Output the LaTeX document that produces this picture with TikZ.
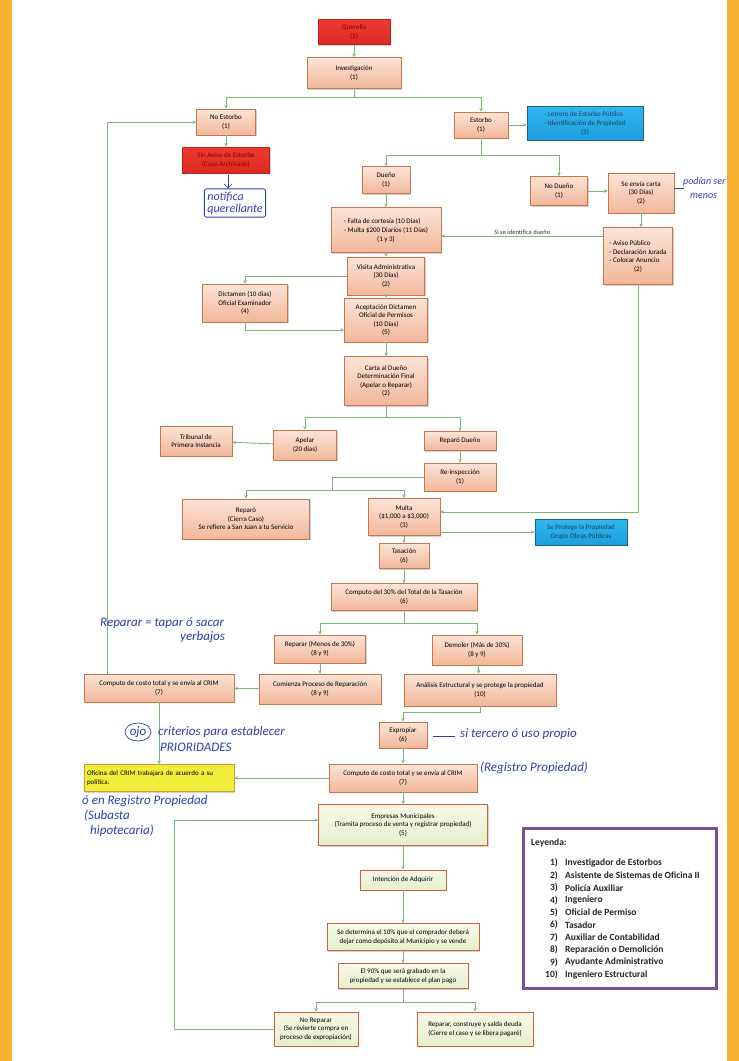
\documentclass[tikz,border=0pt]{standalone}
\usepackage{fontspec}
\setmainfont{Carlito}
\usetikzlibrary{arrows.meta,shadows,calc}
\definecolor{salT}{HTML}{FCE4D6}
\definecolor{salB}{HTML}{F2B79A}
\definecolor{salD}{HTML}{C8754E}
\definecolor{redT}{HTML}{EE3A30}
\definecolor{redB}{HTML}{DC2A22}
\definecolor{redD}{HTML}{B3241C}
\definecolor{bluT}{HTML}{33B5EE}
\definecolor{bluB}{HTML}{1C9FDC}
\definecolor{bluD}{HTML}{1F5F8C}
\definecolor{yelF}{HTML}{F2EC3A}
\definecolor{yelD}{HTML}{C89A32}
\definecolor{grnT}{HTML}{F6F9E8}
\definecolor{grnB}{HTML}{E6EFCC}
\definecolor{grnD}{HTML}{D0603A}
\definecolor{conn}{HTML}{7DB87A}
\definecolor{ink}{RGB}{45,65,170}
\definecolor{frame}{HTML}{F6B12E}
\definecolor{legD}{HTML}{7A4E9E}
\tikzset{
  nb/.style={draw=salD, line width=0.9pt, top color=salT, bottom color=salB,
    align=center, font=\fontsize{7}{8.5}\selectfont, inner sep=1pt,
    drop shadow={shadow xshift=1pt, shadow yshift=-1pt, opacity=0.35}},
  redb/.style={nb, top color=redT, bottom color=redB, draw=redD, text=red!50!black},
  blub/.style={nb, top color=bluT, bottom color=bluB, draw=bluD, text=bluD!70!black},
  yelb/.style={nb, top color=yelF, bottom color=yelF, draw=yelD},
  grnb/.style={nb, top color=grnT, bottom color=grnB, draw=grnD},
  line/.style={draw=conn, line width=0.9pt},
  arr/.style={line, -{Stealth[length=3.5pt,width=3.5pt]}},
  hw/.style={text=ink, font=\itshape\fontsize{13}{13}\selectfont, inner sep=0pt},
  hwl/.style={draw=ink, line width=0.7pt},
  leg/.style={font=\bfseries\fontsize{9.5}{11}\selectfont, inner sep=0pt, anchor=west, text=black!85}
}
\newcommand{\lst}[1]{\begin{tabular}{@{}l@{}}#1\end{tabular}}
\begin{document}
\begin{tikzpicture}[x=1pt,y=-1pt]
\useasboundingbox (0,0) rectangle (739,1061);
\fill[white] (0,0) rectangle (739,1061);

% ---------- nodes ----------
\node[redb, minimum width=72pt, minimum height=25pt] (q) at (354,32) {Querella\\(1)};
\node[nb, minimum width=94pt, minimum height=31pt] (inv) at (354,73) {Investigación\\(1)};
\node[nb, minimum width=59pt, minimum height=26pt] (noe) at (226,122) {No Estorbo\\(1)};
\node[nb, minimum width=54pt, minimum height=26pt] (est) at (481,125) {Estorbo\\(1)};
\node[blub, minimum width=116pt, minimum height=34pt] (blue1) at (585,123) {\lst{- Letrero de Estorbo Público\\- Identificación de Propiedad}\\(3)};
\node[redb, minimum width=87pt, minimum height=26pt] (red2) at (226,160) {Sin Aviso de Estorbo\\(Caso Archivado)};
\node[nb, minimum width=48pt, minimum height=27pt] (dueno) at (386,180) {Dueño\\(1)};
\node[nb, minimum width=57pt, minimum height=29pt] (nod) at (559,191) {No Dueño\\(1)};
\node[nb, minimum width=66pt, minimum height=40pt] (carta) at (641,193) {Se envía carta\\(30 Días)\\(2)};
\node[nb, minimum width=110pt, minimum height=45pt] (falta) at (386,230) {\lst{- Falta de cortesía (10 Días)\\- Multa \$200 Diarios (11 Días)}\\(1 y 3)};
\node[nb, minimum width=69pt, minimum height=57pt] (aviso) at (638,256) {\lst{- Aviso Público\\- Declaración Jurada\\- Colocar Anuncio}\\(2)};
\node[nb, minimum width=77pt, minimum height=38pt] (visita) at (386,276) {Visita Administrativa\\(30 Días)\\(2)};
\node[nb, minimum width=85pt, minimum height=38pt] (dict) at (245,303) {Dictamen (10 días)\\Oficial Examinador\\(4)};
\node[nb, minimum width=83pt, minimum height=44pt] (acept) at (386,320) {Aceptación Dictamen\\Oficial de Permisos\\(10 Días)\\(5)};
\node[nb, minimum width=83pt, minimum height=49pt] (carta2) at (386,381) {Carta al Dueño\\Determinación Final\\(Apelar o Reparar)\\(2)};
\node[nb, minimum width=72pt, minimum height=30pt] (trib) at (196,441) {Tribunal de\\Primera Instancia};
\node[nb, minimum width=63pt, minimum height=30pt] (apelar) at (305,445) {Apelar\\(20 días)};
\node[nb, minimum width=72pt, minimum height=19pt] (repd) at (460,441) {Reparó Dueño};
\node[nb, minimum width=72pt, minimum height=28pt] (reinsp) at (460,477) {Re-inspección\\(1)};
\node[nb, minimum width=127pt, minimum height=40pt] (rep2) at (246,519) {Reparó\\(Cierra Caso)\\Se refiere a San Juan a tu Servicio};
\node[nb, minimum width=72pt, minimum height=37pt] (multa) at (404,517) {Multa\\(\$1,000 a \$3,000)\\(3)};
\node[blub, minimum width=92pt, minimum height=26pt] (blue2) at (581,532) {Se Protege la Propiedad\\Grupo Obras Públicas};
\node[nb, minimum width=50pt, minimum height=25pt] (tas) at (404,556) {Tasación\\(6)};
\node[nb, minimum width=146pt, minimum height=27pt] (c30) at (404,597) {Computo del 30\% del Total de la Tasación\\(6)};
\node[nb, minimum width=91pt, minimum height=28pt] (reparar) at (320,649) {Reparar (Menos de 30\%)\\(8 y 9)};
\node[nb, minimum width=90pt, minimum height=30pt] (demoler) at (477,650) {Demoler (Más de 30\%)\\(8 y 9)};
\node[nb, minimum width=122pt, minimum height=30pt] (comienza) at (320,689) {Comienza Proceso de Reparación\\(8 y 9)};
\node[nb, minimum width=152pt, minimum height=32pt] (analisis) at (480,690) {Análisis Estructural y se protege la propiedad\\(10)};
\node[nb, minimum width=150pt, minimum height=28pt] (crim1) at (159,688) {Computo de costo total y se envía al CRIM\\(7)};
\node[nb, minimum width=48pt, minimum height=26pt] (exprop) at (403,735) {Expropiar\\(6)};
\node[nb, minimum width=148pt, minimum height=28pt] (crim2) at (403,778) {Computo de costo total y se envía al CRIM\\(7)};
\node[yelb, minimum width=150pt, minimum height=27pt, align=left, text width=144pt] (ofi) at (159,778) {Oficina del CRIM trabajara de acuerdo a su\\política.};
\node[grnb, minimum width=169pt, minimum height=41pt] (emp) at (403,825) {Empresas Municipales\\(Tramita proceso de venta y registrar propiedad)\\(5)};
\node[grnb, minimum width=86pt, minimum height=20pt] (intenc) at (403,880) {Intención de Adquirir};
\node[grnb, minimum width=152pt, minimum height=27pt] (sedet) at (403,937) {Se determina el 10\% que el comprador deberá\\dejar como depósito al Municipio y se vende};
\node[grnb, minimum width=130pt, minimum height=25pt] (el90) at (403,976) {El 90\% que será grabado en la\\propiedad y se establece el plan pago};
\node[grnb, minimum width=84pt, minimum height=34pt] (norep) at (316,1029) {No Reparar\\(Se revierte compra en\\proceso de expropiación)};
\node[grnb, minimum width=116pt, minimum height=34pt] (repc) at (475,1029) {Reparar, construye y salda deuda\\(Cierre el caso y se libera pagaré)};

% ---------- junctions ----------
\coordinate (j1) at (354,97);
\coordinate (j2) at (481,155);
\coordinate (j3) at (386,417);
\coordinate (j4) at (332,490);
\coordinate (j5) at (404,623);
\coordinate (j7) at (403,1002);
\coordinate (fb) at (174,820);

% ---------- connectors ----------
\draw[arr] (q) -- (inv);
\draw[line] (inv.south) -- (j1);
\draw[arr] (j1) -| (noe.north);
\draw[arr] (j1) -| (est.north);
\draw[arr] (est.east) -- (est.east -| blue1.west);
\draw[arr] (noe) -- (red2);
\draw[line] (est.south) -- (j2);
\draw[arr] (j2) -| (dueno.north);
\draw[arr] (j2) -| (nod.north);
\draw[arr] (nod.east) -- (nod.east -| carta.west);
\draw[arr] (carta.south) -- (carta.south |- aviso.north);
\draw[arr] ([yshift=20pt]aviso.west) -- node[above=1pt, font=\fontsize{6.5}{7}\selectfont, text=black!80, inner sep=0pt] {Si se identifica dueño} ([yshift=20pt]aviso.west -| falta.east);
\draw[arr] (dueno) -- (falta);
\draw[arr] (falta) -- (visita);
\draw[arr] (visita.west) -| (dict.north);
\draw[arr] (dict.south) |- ([yshift=-10pt]acept.west);
\draw[arr] (visita) -- (acept);
\draw[arr] (acept) -- (carta2);
\draw[line] (carta2.south) -- (j3);
\draw[arr] (j3) -| (apelar.north);
\draw[arr] (j3) -| (repd.north);
\draw[arr] (apelar) -- (trib);
\draw[arr] (repd) -- (reinsp);
\draw[line] (reinsp.west) -| (j4);
\draw[arr] (j4) -| (rep2.north);
\draw[arr] (j4) -| (multa.north);
\draw[arr] (aviso.south) |- ([yshift=5pt]multa.east);
\draw[arr] (multa.east |- blue2.west) -- (blue2.west);
\draw[arr] (multa) -- (tas);
\draw[arr] (tas) -- (c30);
\draw[line] (c30.south) -- (j5);
\draw[arr] (j5) -| (reparar.north);
\draw[arr] (j5) -| (demoler.north);
\draw[arr] (reparar) -- (comienza);
\draw[arr] (demoler) -- (analisis);
\draw[arr] (comienza) -- (crim1);
\draw[arr] ([xshift=-52pt]crim1.north) |- (noe.west);
\draw[arr] (crim1) -- (ofi);
\draw[arr] (analisis.south) -- ++(0,6) -| (exprop.north);
\draw[arr] (exprop) -- (crim2);
\draw[arr] (crim2) -- (ofi);
\draw[arr] (crim2) -- (emp);
\draw[arr] (emp) -- (intenc);
\draw[arr] (intenc) -- (sedet);
\draw[arr] (sedet) -- (el90);
\draw[line] (el90.south) -- (j7);
\draw[arr] (j7) -| (norep.north);
\draw[arr] (j7) -| (repc.north);
\draw[arr] (norep.west) -| (fb) -- (fb -| emp.west);

% ---------- legend ----------
\node[draw=legD, line width=3pt, fill=white, minimum width=193pt, minimum height=160pt, inner sep=0pt] (legend) at (619.5,908) {};
\node[leg] (legT) at (531,843) {Leyenda:};
\foreach \n/\t [count=\i from 0] in {1)/Investigador de Estorbos,2)/Asistente de Sistemas de Oficina II,3)/Policía Auxiliar,4)/Ingeniero,5)/Oficial de Permiso,6)/Tasador,7)/Auxiliar de Contabilidad,8)/Reparación o Demolición,9)/Ayudante Administrativo,10)/Ingeniero Estructural}{
  \node[leg, anchor=east] (ln\i) at (558,{863+12.4*\i}) {\n};
  \node[leg] (lt\i) at (565,{863+12.4*\i}) {\t};
}

% ---------- handwritten notes ----------
\node[hw, draw=ink, line width=0.8pt, rounded corners=2pt, inner sep=3pt, align=left, font=\itshape\fontsize{12}{12}\selectfont] (notif) at (235,203) {notifica\\querellante};
\draw[hwl, -{Straight Barb[length=4pt]}] (228,175) -- (notif.north -| 228,0);
\draw[hwl] (carta.east |- 0,188) -- (684,188);
\node[hw, anchor=west, font=\itshape\fontsize{10}{10}\selectfont] (podian) at (683,182) {podían ser};
\node[hw, anchor=west, font=\itshape\fontsize{10}{10}\selectfont] (menos) at (690,196) {menos};
\node[hw, anchor=west] (reparnote) at (100,623) {Reparar = tapar ó sacar};
\node[hw, anchor=west] (yerb) at (180,637) {yerbajos};
\node[hw] (ojo) at (138,732) {ojo};
\draw[hwl] (ojo) ellipse [x radius=13pt, y radius=9pt];
\node[hw, anchor=west] (crit) at (158,732) {criterios para establecer};
\node[hw, anchor=west] (prior) at (160,747) {PRIORIDADES};
\draw[hwl] (433,736) -- (455,736);
\node[hw, anchor=west] (tercero) at (460,734) {si tercero ó uso propio};
\node[hw, anchor=west] (regprop) at (480,768) {(Registro Propiedad)};
\node[hw, anchor=west] (oenreg) at (82,801) {ó en Registro Propiedad};
\node[hw, anchor=west] (subasta) at (84,816) {(Subasta};
\node[hw, anchor=west] (hipot) at (90,831) {hipotecaria)};

% ---------- page frame ----------
\fill[frame] (0,0) rectangle (12,1061);
\fill[frame] (727,0) rectangle (739,1061);
\end{tikzpicture}
\end{document}
